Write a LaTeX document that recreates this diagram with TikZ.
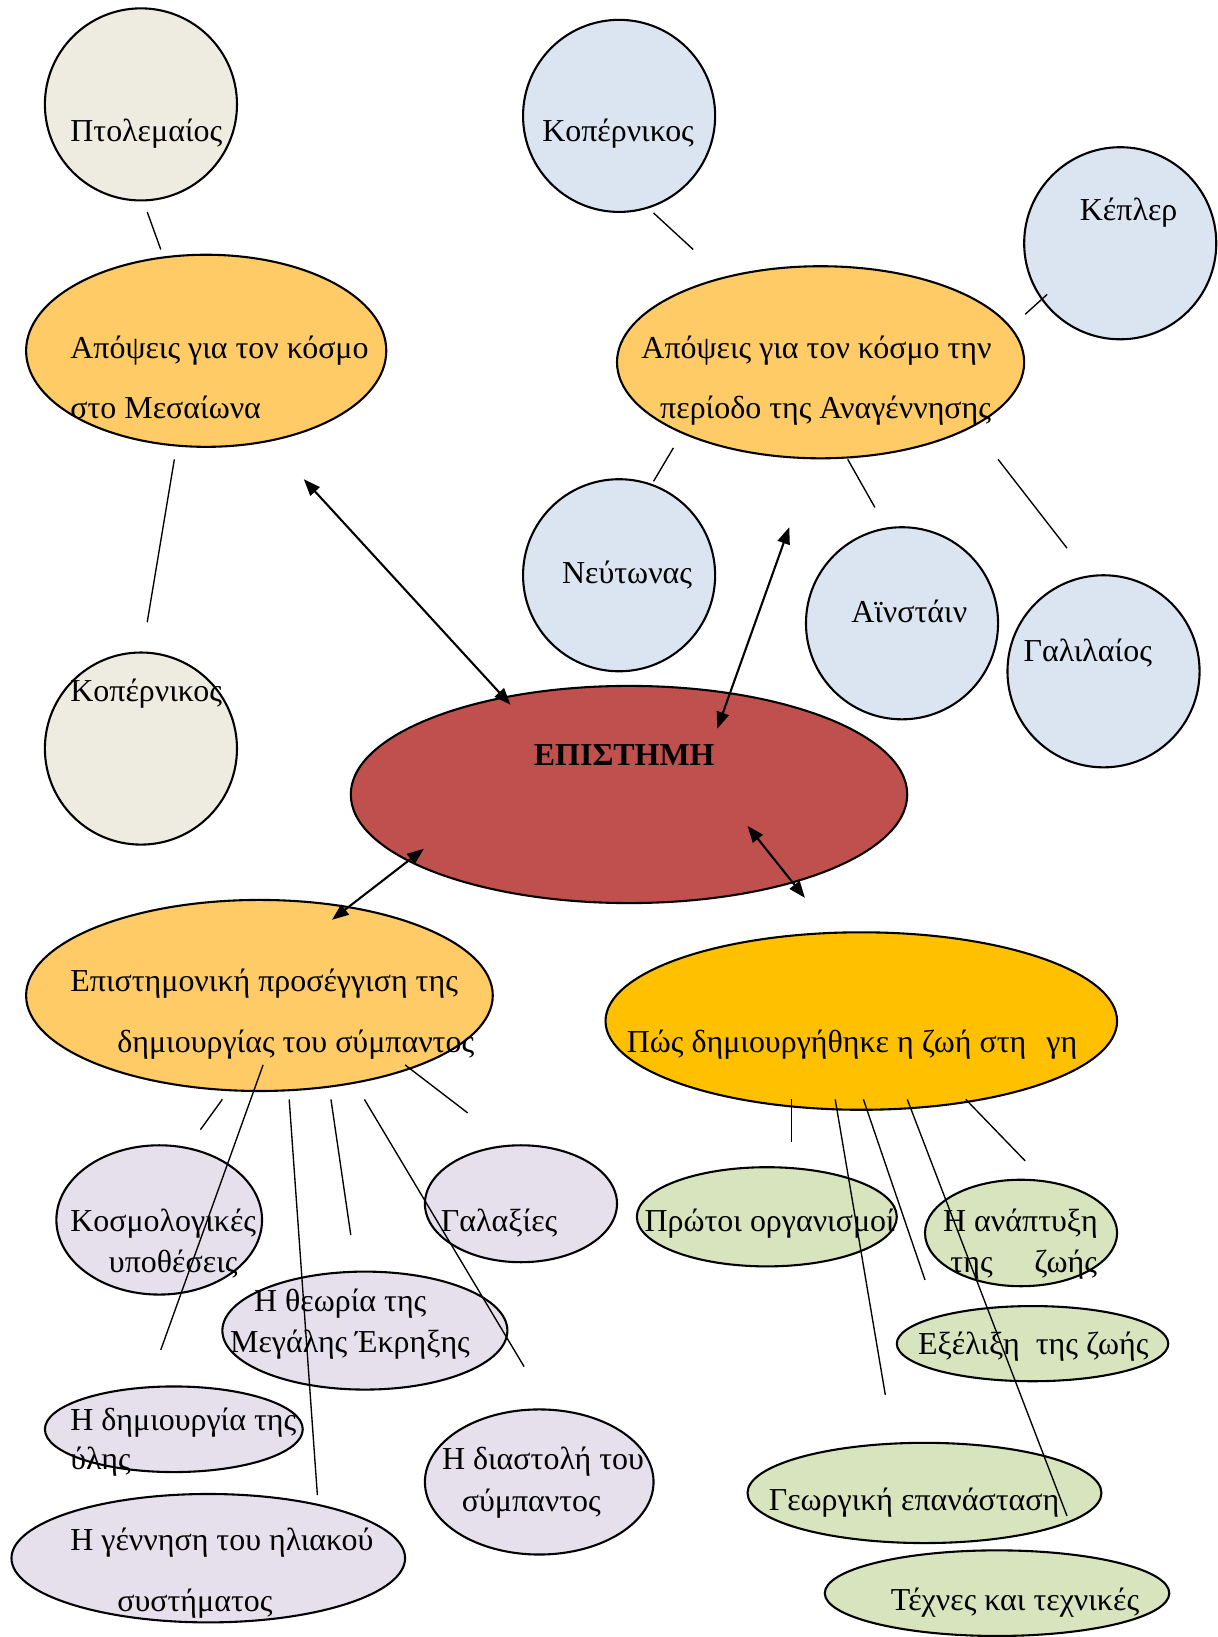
\documentclass[tikz,border=0pt]{standalone}
\usepackage{fontspec}
\setmainfont{Liberation Serif}
\usetikzlibrary{shapes.geometric,arrows.meta}
\definecolor{cbeige}{HTML}{EEECE1}
\definecolor{cblue}{HTML}{DBE5F1}
\definecolor{corange}{HTML}{FECB66}
\definecolor{cgold}{HTML}{FFC000}
\definecolor{cred}{HTML}{C0504D}
\definecolor{clav}{HTML}{E5E0EC}
\definecolor{cgreen}{HTML}{D7E4BD}
\tikzset{
 shp/.style={ellipse, draw=black, line width=1pt, inner sep=0pt},
 txt/.style={anchor=base west, inner sep=0pt, yshift=-1pt, font=\fontsize{15.3}{18}\selectfont},
 conn/.style={draw=black, line width=0.65pt},
 arr/.style={draw=black, line width=1pt, {Triangle[length=8pt,width=6pt]}-{Triangle[length=8pt,width=6pt]}},
}
\begin{document}
\begin{tikzpicture}[x=0.5pt,y=-0.5pt]
\useasboundingbox (0,0) rectangle (1166,1568);
% top-left
\node[shp, fill=cbeige, minimum width=92pt, minimum height=92pt] (ptol) at (135,100) {};
\node[txt] (tptol) at (67,134) {Πτολεμαίος};
\node[shp, fill=cblue, minimum width=92pt, minimum height=92pt] (kopT) at (593,111) {};
\node[txt] (tkopT) at (519,134) {Κοπέρνικος};
\node[shp, fill=cblue, minimum width=92pt, minimum height=92pt] (kepler) at (1073,233) {};
\node[txt] (tkepler) at (1034,209) {Κέπλερ};
\node[shp, fill=corange, minimum width=172.5pt, minimum height=92pt] (med) at (197.5,336) {};
\node[txt] (tmed1) at (67,341) {Απόψεις για τον κόσμο};
\node[txt] (tmed2) at (67,399) {στο Μεσαίωνα};
\node[shp, fill=corange, minimum width=195pt, minimum height=92pt] (ren) at (786,347) {};
\node[txt] (tren1) at (614,341) {Απόψεις για τον κόσμο την};
\node[txt] (tren2) at (632,399) {περίοδο της Αναγέννησης};
\node[shp, fill=cblue, minimum width=92pt, minimum height=92pt] (newton) at (593,551) {};
\node[txt] (tnewton) at (538,557) {Νεύτωνας};
\node[shp, fill=cblue, minimum width=92pt, minimum height=92pt] (einstein) at (864,597) {};
\node[txt] (teinstein) at (815,594) {Αϊνστάιν};
\node[shp, fill=cblue, minimum width=92pt, minimum height=92pt] (galileo) at (1057,643) {};
\node[txt] (tgalileo) at (980,632) {Γαλιλαίος};
\node[shp, fill=cbeige, minimum width=92pt, minimum height=92pt] (kopL) at (135,717) {};
\node[txt] (tkopL) at (67,670) {Κοπέρνικος};
\node[shp, fill=cred, minimum width=266.5pt, minimum height=104pt] (epi) at (602.5,761) {};
\node[txt, font=\fontsize{15.3}{18}\selectfont\bfseries] (tepi) at (511,731) {ΕΠΙΣΤΗΜΗ};
\node[shp, fill=corange, minimum width=223.5pt, minimum height=91.5pt] (sci) at (248.5,953.5) {};
\node[txt] (tsci1) at (67,948) {Επιστημονική προσέγγιση της};
\node[txt] (tsci2) at (112,1006) {δημιουργίας του σύμπαντος};
\node[shp, fill=cgold, minimum width=245pt, minimum height=85pt] (life) at (825,978) {};
\node[txt] (tlife) at (600,1006) {Πώς δημιουργήθηκε η ζωή στη\ \ \hspace{2pt}γη};
% lavender
\node[shp, fill=clav, minimum width=98.5pt, minimum height=71.5pt] (cosmo) at (152.5,1168.5) {};
\node[txt] (tcosmo1) at (67,1178) {Κοσμολογικές};
\node[txt] (tcosmo2) at (104,1217) {υποθέσεις};
\node[shp, fill=clav, minimum width=92pt, minimum height=56pt] (galax) at (499,1153) {};
\node[txt] (tgalax) at (422,1178) {Γαλαξίες};
\node[shp, fill=clav, minimum width=136.5pt, minimum height=56.5pt] (bigbang) at (349.5,1274.5) {};
\node[txt] (tbb1) at (243,1254) {Η θεωρία της};
\node[txt] (tbb2) at (220,1293) {Μεγάλης Έκρηξης};
\node[shp, fill=clav, minimum width=123.5pt, minimum height=41pt] (matter) at (166.5,1369) {};
\node[txt] (tmat1) at (67,1368) {Η δημιουργία της};
\node[txt] (tmat2) at (67,1406) {ύλης};
\node[shp, fill=clav, minimum width=109.5pt, minimum height=69.5pt] (expan) at (516.5,1419.5) {};
\node[txt] (texp1) at (423,1406) {Η διαστολή του};
\node[txt] (texp2) at (442,1446) {σύμπαντος};
\node[shp, fill=clav, minimum width=188.5pt, minimum height=61.5pt] (solar) at (199.5,1492.5) {};
\node[txt] (tsol1) at (67,1483) {Η γέννηση του ηλιακού};
\node[txt] (tsol2) at (112,1542) {συστήματος};
% green
\node[shp, fill=cgreen, minimum width=124.5pt, minimum height=47.5pt] (first) at (734.5,1165.5) {};
\node[txt] (tfirst) at (617,1178) {Πρώτοι οργανισμοί};
\node[shp, fill=cgreen, minimum width=92pt, minimum height=51pt] (devel) at (978,1181) {};
\node[txt] (tdev1) at (903,1178) {Η ανάπτυξη};
\node[txt] (tdev2) at (910,1217) {της\hspace{20pt}ζωής};
\node[shp, fill=cgreen, minimum width=130pt, minimum height=36pt] (evol) at (989,1287) {};
\node[txt] (tevol) at (879,1295) {Εξέλιξη\ \ της ζωής};
\node[shp, fill=cgreen, minimum width=169.5pt, minimum height=48pt] (agri) at (885.5,1430) {};
\node[txt] (tagri) at (736,1445) {Γεωργική επανάσταση};
\node[shp, fill=cgreen, minimum width=165pt, minimum height=41pt] (arts) at (955,1526) {};
\node[txt] (tarts) at (853,1541) {Τέχνες και τεχνικές};
% line end coordinates
\coordinate (l1a) at (141,203); \coordinate (l1b) at (154,239);
\coordinate (l2a) at (167,440); \coordinate (l2b) at (141,596);
\coordinate (l3a) at (626,204); \coordinate (l3b) at (664,239);
\coordinate (l4a) at (982,301); \coordinate (l4b) at (1003,282);
\coordinate (l5a) at (645,429); \coordinate (l5b) at (626,461);
\coordinate (l6a) at (812,440); \coordinate (l6b) at (838,486);
\coordinate (l7a) at (956,440); \coordinate (l7b) at (1022,525);
\coordinate (a1a) at (291,459); \coordinate (a1b) at (489,675);
\coordinate (a2a) at (756,505); \coordinate (a2b) at (687,698);
\coordinate (a3a) at (406,813); \coordinate (a3b) at (318,881);
\coordinate (a4a) at (716,791); \coordinate (a4b) at (771,860);
\coordinate (s1a) at (213,1053); \coordinate (s1b) at (192,1082);
\coordinate (s2a) at (252,1020); \coordinate (s2b) at (154,1293);
\coordinate (s3a) at (277,1053); \coordinate (s3b) at (304,1432);
\coordinate (s4a) at (317,1053); \coordinate (s4b) at (336,1183);
\coordinate (s5a) at (349,1053); \coordinate (s5b) at (502,1309);
\coordinate (s6a) at (388,1020); \coordinate (s6b) at (448,1066);
\coordinate (g1a) at (758,1053); \coordinate (g1b) at (758,1094);
\coordinate (g2a) at (800,1053); \coordinate (g2b) at (848,1336);
\coordinate (g3a) at (827,1053); \coordinate (g3b) at (886,1226);
\coordinate (g4a) at (869,1053); \coordinate (g4b) at (1022,1452);
\coordinate (g5a) at (925,1053); \coordinate (g5b) at (982,1112);
% connectors
\foreach \c in {l1,l2,l3,l4,l5,l6,l7,s1,s2,s3,s4,s5,s6,g1,g2,g3,g4,g5}
  \draw[conn] (\c a) -- (\c b);
\foreach \c in {a1,a2,a3,a4}
  \draw[arr] (\c a) -- (\c b);
\end{tikzpicture}
\end{document}
